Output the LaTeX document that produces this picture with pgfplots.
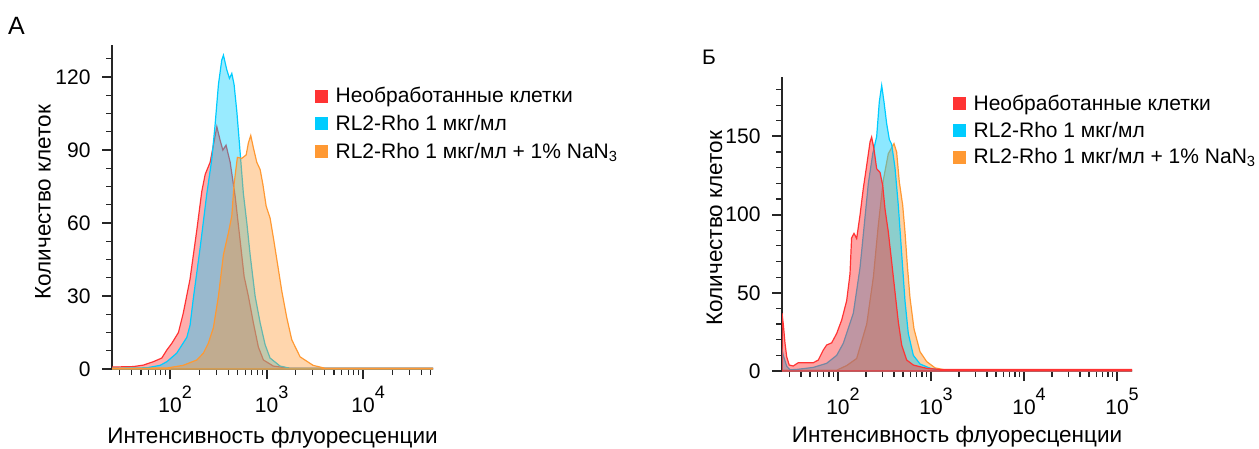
\documentclass[border=0pt]{standalone}
\usepackage{pgfplots}
\pgfplotsset{compat=1.18}
\usepackage{fontspec}
\setmainfont{Liberation Sans}
\definecolor{cR}{RGB}{255,51,51}
\definecolor{cC}{RGB}{0,204,255}
\definecolor{cO}{RGB}{255,153,51}
\newcommand{\xl}[1]{10\rlap{\raisebox{13.5pt}{\fontsize{18}{18}\selectfont #1}}}
\begin{document}
\begin{tikzpicture}
\useasboundingbox (0pt,0pt) rectangle (1259pt,448pt);
\node[anchor=base west, inner sep=0pt, font=\fontsize{25}{25}\selectfont] at (8pt,413pt) {А};
\node[anchor=base west, inner sep=0pt, font=\fontsize{21}{21}\selectfont] at (702pt,383pt) {Б};
% Panel A
\begin{axis}[at={(112pt,79pt)}, anchor=south west,
  xmode=log, scale only axis, axis lines=left,
  axis line style={-, line width=1.5pt, black!85},
  tick align=outside, tick pos=left,
  major tick length=10pt, minor tick length=6pt,
  major tick style={line width=2pt, black!85},
  minor tick style={line width=1.2pt, black!85},
  tick label style={font=\fontsize{21}{24}\selectfont},
  xticklabel style={anchor=base, yshift=-33pt},
  yticklabel style={xshift=-8pt},
  label style={font=\fontsize{22.5}{26}\selectfont},
  xlabel={Интенсивность флуоресценции},
  ylabel={Количество клеток},
  legend style={draw=none, fill=none, anchor=north west, at={(0.623,0.882)},
    font=\fontsize{21}{24}\selectfont, row sep=7pt,
    /tikz/every odd column/.append style={column sep=6pt}},
  legend cell align=left,
  width=321pt, height=324pt,
  xmin=25, xmax=53000, ymin=0, ymax=133.2,
  xtick={100,1000,10000}, xticklabels={\xl{2},\xl{3},\xl{4}},
  minor xtick={30,40,50,60,70,80,90,200,300,400,500,600,700,800,900,2000,3000,4000,5000,6000,7000,8000,9000,20000,30000,40000,50000},
  ytick={0,30,60,90,120}, yticklabels={0,30,60,90,120},
  minor ytick={7.5,15,22.5,37.5,45,52.5,67.5,75,82.5,97.5,105,112.5,127.5},
  xlabel style={at={(axis description cs:0.5,-0.229)}, anchor=base},
  ylabel style={at={(axis description cs:-0.215,0.515)}, anchor=center},
]
\addlegendimage{legend image code/.code={\fill[cR] (0pt,-6pt) rectangle (12pt,6pt);}}\addlegendentry{Необработанные клетки}
\addlegendimage{legend image code/.code={\fill[cC] (0pt,-6pt) rectangle (12pt,6pt);}}\addlegendentry{RL2-Rho 1 мкг/мл}
\addlegendimage{legend image code/.code={\fill[cO] (0pt,-6pt) rectangle (12pt,6pt);}}\addlegendentry{RL2-Rho 1 мкг/мл + 1\% NaN\textsubscript{3}}
\addplot[draw=cR, line width=1.2pt, fill=cR, fill opacity=0.4, forget plot] coordinates {(25,0.8) (41.7,1.0) (52.8,1.6) (67.1,3.0) (82,4.5) (92.5,7.8) (104,10.5) (122,15) (137,23) (161,37) (189,57) (213,73) (231,80) (260,85) (281,92) (305,99.6) (330,94) (352,90) (380,92) (419,85) (472,71) (531,53) (585,38) (647,30) (729,19) (822,9) (927,3.7) (1175,1.2) (1754,0.3) (53000,0.3)} \closedcycle;
\addplot[draw=cC, line width=1.2pt, fill=cC, fill opacity=0.4, forget plot] coordinates {(25,0.3) (57.4,0.5) (78.8,1.5) (92.5,3) (117,6.5) (149,13) (161,18) (174,29) (205,50) (240,72) (270,86) (292,100) (317,117) (343,127) (357,129) (387,123) (412,119.5) (436,121.5) (460,117) (491,106) (522,93) (575,72) (624,60) (675,47) (760,30) (857,19) (965,10) (1086,4.5) (1380,1.2) (1754,0.3) (53000,0.3)} \closedcycle;
\addplot[draw=cO, line width=1.2pt, fill=cO, fill opacity=0.4, forget plot] coordinates {(25,0.3) (92.5,0.4) (136.5,1.5) (189,3.7) (221,6.5) (249,10.6) (281,17) (317,30) (357,47) (402,56) (436,63) (460,76) (498,87) (553,86.6) (614,88) (648,93) (685,96) (729,91) (791,85) (857,82) (914,76) (989,67) (1087,62) (1175,54) (1324,41) (1437,32) (1620,21) (1823,12) (2223,5) (3034,1.5) (4036,0.3) (53000,0.3)} \closedcycle;
\end{axis}
% Panel B
\begin{axis}[at={(782pt,77pt)}, anchor=south west,
  xmode=log, scale only axis, axis lines=left,
  axis line style={-, line width=1.5pt, black!85},
  tick align=outside, tick pos=left,
  major tick length=10pt, minor tick length=6pt,
  major tick style={line width=2pt, black!85},
  minor tick style={line width=1.2pt, black!85},
  tick label style={font=\fontsize{21}{24}\selectfont},
  xticklabel style={anchor=base, yshift=-33pt},
  yticklabel style={xshift=-8pt},
  label style={font=\fontsize{22.5}{26}\selectfont},
  xlabel={Интенсивность флуоресценции},
  ylabel={Количество клеток},
  legend style={draw=none, fill=none, anchor=north west, at={(0.480,0.953)},
    font=\fontsize{21}{24}\selectfont, row sep=6pt,
    /tikz/every odd column/.append style={column sep=6pt}},
  legend cell align=left,
  width=350pt, height=294pt,
  xmin=25, xmax=145000, ymin=0, ymax=188,
  xtick={100,1000,10000,100000}, xticklabels={\xl{2},\xl{3},\xl{4},\xl{5}},
  minor xtick={30,40,50,60,70,80,90,200,300,400,500,600,700,800,900,2000,3000,4000,5000,6000,7000,8000,9000,20000,30000,40000,50000,60000,70000,80000,90000},
  ytick={0,50,100,150}, yticklabels={0,50,100,150},
  minor ytick={10,20,30,40,60,70,80,90,110,120,130,140,160,170,180},
  xlabel style={at={(axis description cs:0.5,-0.2415)}, anchor=base},
  ylabel style={at={(axis description cs:-0.193,0.486)}, anchor=center},
]
\addlegendimage{legend image code/.code={\fill[cR] (0pt,-6pt) rectangle (12pt,6pt);}}\addlegendentry{Необработанные клетки}
\addlegendimage{legend image code/.code={\fill[cC] (0pt,-6pt) rectangle (12pt,6pt);}}\addlegendentry{RL2-Rho 1 мкг/мл}
\addlegendimage{legend image code/.code={\fill[cO] (0pt,-6pt) rectangle (12pt,6pt);}}\addlegendentry{RL2-Rho 1 мкг/мл + 1\% NaN\textsubscript{3}}
\addplot[draw=cO, line width=1.2pt, fill=cO, fill opacity=0.45, forget plot] coordinates {(25,0.5) (96.8,0.5) (124,3.5) (158.8,8) (203.6,30) (240,60) (271,93) (307,122) (347.6,139) (400,145.4) (427,140) (456,121) (496,106) (525,89) (556,68) (594,47) (656,27) (762,12.3) (899,6) (1104,2) (1475,0.5) (145000,0.3)} \closedcycle;
\addplot[draw=cC, line width=1.2pt, fill=cC, fill opacity=0.45, forget plot] coordinates {(25,14) (25.8,10) (28.1,3) (30.5,0.8) (36,1) (54.2,2.3) (75.5,4.9) (96.8,10) (114,17.7) (146,36.8) (172.5,66) (195,98) (212,120) (236.5,139) (260.6,150) (278,172) (295,182.6) (312.5,172) (334,158) (356.5,148) (377.7,145) (410,130) (445,106) (484,75) (525,45) (570,24) (646,10) (762,4.5) (975,1.8) (1250,0.5) (145000,0.3)} \closedcycle;
\addplot[draw=cR, line width=1.2pt, fill=cR, fill opacity=0.45, forget plot] coordinates {(25,37) (25.8,30) (26.9,18) (28.1,9) (29.9,3.8) (33,3.2) (37.4,5.3) (54.2,5.3) (61.4,7) (69.5,13.4) (75.5,16.6) (85.5,18) (96.8,24) (109.6,32.6) (124,45) (134.6,62) (140,85) (148.6,88) (158.8,84.7) (172.5,99.6) (187,116.6) (203.6,131.5) (221,146.4) (230,149.6) (243.6,142) (260.6,129.3) (283,127) (302.7,118.6) (320,103.8) (347.6,88.9) (377.7,69.8) (410,50.6) (445,31.5) (484,16.6) (548,7) (646,3.8) (899,1.7) (1250,1) (145000,1)} \closedcycle;
\end{axis}
\end{tikzpicture}
\end{document}
